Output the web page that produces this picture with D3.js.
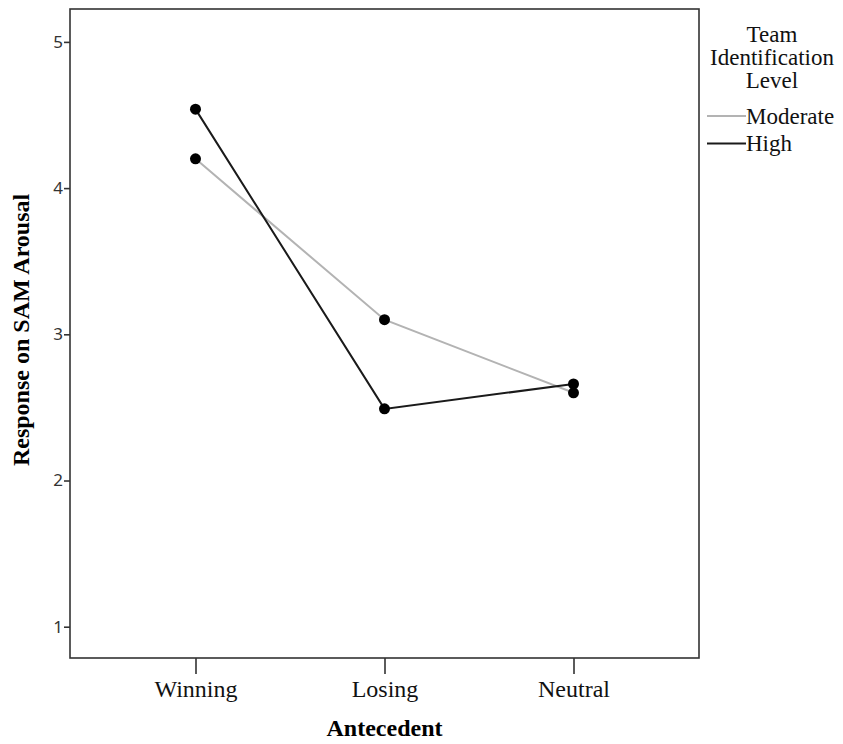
<!DOCTYPE html>
<html>
<head>
<meta charset="utf-8">
<script src="https://cdn.jsdelivr.net/npm/d3@7"></script>
<style>
  body { margin: 0; background: #fff; }
  svg { display: block; }
</style>
</head>
<body>
<div id="chart"></div>
<script>
// data
const antecedents = ['Winning', 'Losing', 'Neutral'];
const moderate = [4.20, 3.10, 2.60];
const high = [4.54, 2.49, 2.66];
const yTicks = [1, 2, 3, 4, 5];
const seriesNames = ['Moderate', 'High'];
const seriesColors = ['#b3b3b3', '#1a1a1a'];

const width = 843, height = 744;
const margin = { top: 9, right: 144, bottom: 86, left: 70 };
const plotW = width - margin.left - margin.right;
const plotH = height - margin.top - margin.bottom;

const svg = d3.select('#chart').append('svg')
    .attr('width', width)
    .attr('height', height);

const plot = svg.append('g')
    .attr('transform', `translate(${margin.left},${margin.top})`);

const xScale = d3.scalePoint().domain(antecedents).range([0, plotW]).padding(0.664);
const yScale = d3.scaleLinear().domain([0.786, 5.225]).range([plotH, 0]);

// frame
plot.append('rect')
    .attr('width', plotW).attr('height', plotH)
    .attr('fill', 'none').attr('stroke', '#333').attr('stroke-width', 1.6);

// y axis
let yAxis = plot.append('g').call(d3.axisLeft(yScale).tickValues(yTicks).tickSize(6).tickFormat(d3.format('d')));
yAxis.select('.domain').remove();
yAxis.selectAll('line').attr('stroke', '#333').attr('stroke-width', 1.6);
yAxis.selectAll('text')
    .attr('font-family', '"Noto Sans", "DejaVu Sans", sans-serif')
    .attr('font-size', 17).attr('fill', '#333').attr('x', -7);

// x axis
let xAxis = plot.append('g')
    .attr('transform', `translate(0,${plotH})`)
    .call(d3.axisBottom(xScale).tickSize(16).tickPadding(6));
xAxis.select('.domain').remove();
xAxis.selectAll('line').attr('stroke', '#333').attr('stroke-width', 1.6);
xAxis.selectAll('text')
    .attr('font-family', '"Liberation Serif", serif')
    .attr('font-size', 24).attr('fill', '#111');

// axis titles
svg.append('text')
    .attr('font-family', '"Liberation Serif", serif')
    .attr('font-weight', 'bold').attr('font-size', 24)
    .attr('text-anchor', 'middle')
    .attr('x', margin.left + xScale('Losing')).attr('y', 736)
    .text('Antecedent');

svg.append('text')
    .attr('font-family', '"Liberation Serif", serif')
    .attr('font-weight', 'bold').attr('font-size', 24)
    .attr('text-anchor', 'middle')
    .attr('transform', `translate(29,${margin.top + yScale(3.03)}) rotate(-90)`)
    .text('Response on SAM Arousal');

// lines and points
const series = [moderate, high];
const lineGen = d3.line()
    .x((d, i) => xScale(antecedents[i]))
    .y(d => yScale(d));

series.forEach((vals, k) => {
    plot.append('path')
        .attr('d', lineGen(vals))
        .attr('fill', 'none')
        .attr('stroke', seriesColors[k])
        .attr('stroke-width', 2);
});
series.forEach(vals => {
    plot.append('g').selectAll('circle').data(vals).join('circle')
        .attr('cx', (d, i) => xScale(antecedents[i]))
        .attr('cy', d => yScale(d))
        .attr('r', 5.5)
        .attr('fill', '#000');
});

// legend
const legend = svg.append('g')
    .attr('font-family', '"Liberation Serif", serif')
    .attr('font-size', 23).attr('fill', '#111');
['Team', 'Identification', 'Level'].forEach((t, i) => {
    legend.append('text')
        .attr('x', 772).attr('y', 42 + i * 23)
        .attr('text-anchor', 'middle')
        .text(t);
});
seriesNames.forEach((name, i) => {
    let y = 116 + i * 27.5;
    legend.append('line')
        .attr('x1', 707).attr('x2', 746)
        .attr('y1', y).attr('y2', y)
        .attr('stroke', seriesColors[i]).attr('stroke-width', 2);
    legend.append('text')
        .attr('x', 746).attr('y', y + 7.5)
        .text(name);
});
</script>
</body>
</html>
